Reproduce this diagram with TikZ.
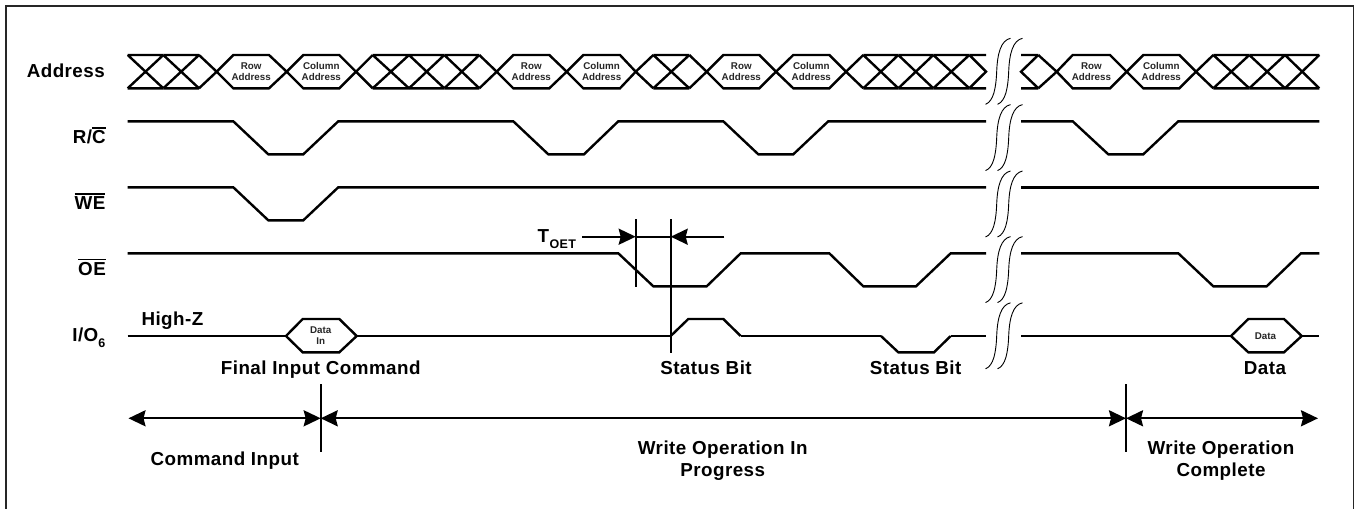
\documentclass[tikz,border=0pt]{standalone}
\usepackage{fontspec}
\setmainfont{Liberation Sans}
\usetikzlibrary{arrows.meta}
\newcommand{\ovb}[1]{\vbox{\hrule height 1.8pt \kern 1.4pt \hbox{#1}}}
\newcommand{\subt}[1]{\raisebox{-6.6pt}{\fontsize{12.5}{14}\selectfont\bfseries #1}}
\tikzset{
  wave/.style={line width=2.4pt},
  thinio/.style={line width=2.2pt},
  brk/.style={line width=0.9pt},
  frameline/.style={line width=1.8pt,draw=black!85},
  dimline/.style={line width=2.3pt},
  dimarrow/.style={line width=2.2pt,-{Stealth[length=17pt,width=16pt,inset=2pt]}},
  biglabel/.style={font=\fontsize{18.8}{22}\selectfont\bfseries\addfontfeature{LetterSpace=2.5},inner sep=0pt,anchor=base},
  siglabel/.style={biglabel,anchor=base east},
  hexlabel/.style={font=\fontsize{9.8}{11}\selectfont\bfseries,inner sep=0pt,align=center,text=black!85},
}
\begin{document}
\begin{tikzpicture}[x=1pt,y=-1pt]
\useasboundingbox (0,0) rectangle (1361,509);
\def\at{55} \def\ab{88.3} \def\am{71.7}
% frame
\draw[frameline] (6,509) -- (6,5.6) -- (1353.5,5.6) -- (1353.5,509);
% Address: hatched stretches
\foreach \a/\b in {127.7/163.3,163.3/199,372.7/409,409/444.3,444.3/479.3,653.3/689.3,863.3/898.3,898.3/933.3,933.3/969.3,1213.3/1249.3,1249.3/1285,1285/1319.3}{
  \draw[wave] (\a,\at) -- (\b,\at) (\a,\ab) -- (\b,\ab) (\a,\at) -- (\b,\ab) (\a,\ab) -- (\b,\at);
}
% Address: hexagons with labels
\foreach \l/\r/\c/\d/\nm in {233.3/269/216.7/286.7/a,513.3/549.3/496.7/566.7/b,723.3/759.3/706.7/776/c,1072.7/1110/1056.7/1126.7/d}{
  \draw[wave] (\c,\am) -- (\l,\at) -- (\r,\at) -- (\d,\am) -- (\r,\ab) -- (\l,\ab) -- cycle;
  \node[hexlabel] (row\nm) at ({(\l+\r)/2},\am) {Row\\Address};
}
\foreach \l/\r/\c/\d/\nm in {303.3/339.3/286.7/356/a,583.3/620/566.7/635.7/b,793.3/829.3/776/846/c,1143.3/1179.3/1126.7/1196/d}{
  \draw[wave] (\c,\am) -- (\l,\at) -- (\r,\at) -- (\d,\am) -- (\r,\ab) -- (\l,\ab) -- cycle;
  \node[hexlabel] (col\nm) at ({(\l+\r)/2},\am) {Column\\Address};
}
% Address: short diagonals into hatched stretches
\draw[wave] (199,\at) -- (216.7,\am) -- (199,\ab);
\draw[wave] (372.7,\at) -- (356,\am) -- (372.7,\ab);
\draw[wave] (479.3,\at) -- (496.7,\am) -- (479.3,\ab);
\draw[wave] (653.3,\at) -- (635.7,\am) -- (653.3,\ab);
\draw[wave] (689.3,\at) -- (706.7,\am) -- (689.3,\ab);
\draw[wave] (863.3,\at) -- (846,\am) -- (863.3,\ab);
\draw[wave] (1213.3,\at) -- (1196,\am) -- (1213.3,\ab);
\draw[wave] (969.3,\at) -- (986,\at) (969.3,\ab) -- (986,\ab) (969.3,\at) -- (986,\am) -- (969.3,\ab);
\draw[wave] (1021,\at) -- (1038.3,\at) (1021,\ab) -- (1038.3,\ab) (1038.3,\at) -- (1021,\am) -- (1038.3,\ab);
\draw[wave] (1038.3,\at) -- (1056.7,\am) -- (1038.3,\ab);
% R/C
\draw[wave] (127.7,121.3) -- (233.3,121.3) -- (268.3,154.3) -- (303.3,154.3) -- (338.3,121.3) -- (513.3,121.3) -- (548.3,154.3) -- (584,154.3) -- (618.3,121.3) -- (723.3,121.3) -- (758.3,154.3) -- (793.3,154.3) -- (828.3,121.3) -- (986,121.3);
\draw[wave] (1021,121.3) -- (1072.7,121.3) -- (1108.3,154.3) -- (1143.3,154.3) -- (1178.3,121.3) -- (1319.3,121.3);
% WE
\draw[wave] (127.7,187.3) -- (233.3,187.3) -- (268.3,220.3) -- (303.3,220.3) -- (338.3,187.3) -- (986,187.3);
\draw[wave] (1021,187.3) -- (1319.3,187.3);
% OE
\draw[wave] (127.7,253.3) -- (618.3,253.3) -- (653.3,286.3) -- (706.7,286.3) -- (740.7,253.3) -- (829.3,253.3) -- (863.3,286.3) -- (916,286.3) -- (950.7,253.3) -- (986,253.3);
\draw[wave] (1021,253.3) -- (1178.3,253.3) -- (1213.3,286.3) -- (1266.7,286.3) -- (1301,253.3) -- (1319.3,253.3);
% I/O6
\draw[thinio] (127.7,336) -- (286,336);
\draw[wave] (286,336) -- (302.7,319) -- (339.3,319) -- (356.7,336) -- (339.3,352.3) -- (302.7,352.3) -- cycle;
\node[hexlabel] (datain) at (320.7,336) {Data\\In};
\draw[thinio] (356.7,336) -- (670.7,336);
\draw[wave] (670.7,336) -- (688.3,319) -- (723.3,319) -- (740.7,336);
\draw[thinio] (740.7,336) -- (881,336);
\draw[wave] (881,336) -- (898.3,352.3) -- (934,352.3) -- (950.7,336);
\draw[thinio] (950.7,336) -- (986,336);
\draw[thinio] (1021,336) -- (1231,336);
\draw[wave] (1231,336) -- (1248.3,319) -- (1284,319) -- (1301.7,336) -- (1284,352.3) -- (1248.3,352.3) -- cycle;
\node[hexlabel] (dataout) at (1265.5,336) {Data};
\draw[thinio] (1301.7,336) -- (1319.3,336);
% break marks
\foreach \y in {38.3,104.6,171,236.6,302.8}{
  \foreach \dx in {0,12}{
    \draw[brk] (985.5+\dx,\y+66) .. controls (993.5+\dx,\y+63) and (996+\dx,\y+50) .. (996.7+\dx,\y+33) .. controls (997.4+\dx,\y+15) and (1001+\dx,\y+2) .. (1010.5+\dx,\y);
  }
}
% TOET markers
\coordinate (m1t) at (635.7,219.3); \coordinate (m1b) at (635.7,286.7);
\coordinate (m2t) at (670.7,219.3); \coordinate (m2b) at (670.7,352.7);
\coordinate (m1c) at (635.7,236.7); \coordinate (m2c) at (670.7,236.7);
\coordinate (tl) at (582.3,236.7); \coordinate (tr) at (724.3,236.7);
\draw[dimline] (m1t) -- (m1b);
\draw[dimline] (m2t) -- (m2b);
\draw[dimline] (m1c) -- (m2c);
\draw[dimarrow] (tl) -- (m1c);
\draw[dimarrow] (tr) -- (m2c);
% phase arrows
\coordinate (p0) at (128.5,418.3); \coordinate (p1) at (320.7,418.3);
\coordinate (p2) at (1126,418.3); \coordinate (p3) at (1318,418.3);
\coordinate (p1t) at (320.7,384.3); \coordinate (p1b) at (320.7,452.3);
\coordinate (p2t) at (1126,384.3); \coordinate (p2b) at (1126,452.3);
\draw[dimline] (p1t) -- (p1b);
\draw[dimline] (p2t) -- (p2b);
\draw[dimline,{Stealth[length=17pt,width=16pt,inset=2pt]}-{Stealth[length=17pt,width=16pt,inset=2pt]}] (p0) -- (p1);
\draw[dimline,{Stealth[length=17pt,width=16pt,inset=2pt]}-{Stealth[length=17pt,width=16pt,inset=2pt]}] (p1) -- (p2);
\draw[dimline,{Stealth[length=17pt,width=16pt,inset=2pt]}-{Stealth[length=17pt,width=16pt,inset=2pt]}] (p2) -- (p3);
% labels
\node[siglabel] (lA) at (105,77.3) {Address};
\node[siglabel] (lR) at (106,143.3) {R/\ovb{C}};
\node[siglabel] (lW) at (105.5,209.3) {\ovb{WE}};
\node[siglabel] (lO) at (106,275) {\ovb{OE}};
\node[siglabel] (lI) at (105.5,341) {I/O\subt{6}};
\node[biglabel,anchor=base west] (lZ) at (141.3,325.3) {High-Z};
\node[biglabel] (lF) at (320.7,374) {Final Input Command};
\node[biglabel] (lS1) at (706,374) {Status Bit};
\node[biglabel] (lS2) at (915.7,374) {Status Bit};
\node[biglabel] (lD) at (1265,374) {Data};
\node[biglabel] (lC) at (224.7,465) {Command Input};
\node[biglabel,anchor=base west] (lT) at (537.3,242.3) {T\subt{\hspace{0.6pt}OET}};
\node[biglabel] (lW1) at (722.7,454) {Write Operation In};
\node[biglabel] (lW2) at (722.7,476) {Progress};
\node[biglabel] (lC1) at (1221,454) {Write Operation};
\node[biglabel] (lC2) at (1221,476) {Complete};
\end{tikzpicture}
\end{document}
